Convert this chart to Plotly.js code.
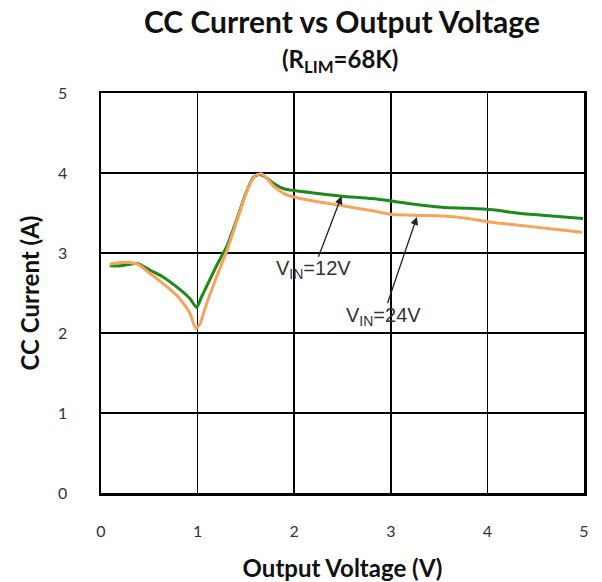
<!DOCTYPE html>
<html>
<head>
<meta charset="utf-8">
<script src="https://cdn.plot.ly/plotly-3.0.1.min.js"></script>
<style>html,body{margin:0;padding:0;background:#fff;}#chart{width:602px;height:582px;}</style>
</head>
<body>
<div id="chart"></div>
<script>
// Output voltage (V) and CC current (A) for the two input voltages
const vin12_x = [0.09,0.2,0.3,0.38,0.5,0.63,0.8,0.92,0.99,1.04,1.1,1.2,1.3,1.4,1.5,1.58,1.64,1.7,1.8,1.9,2.0,2.2,2.5,2.8,3.06,3.3,3.55,3.8,4.06,4.3,4.6,4.99];
const vin12_y = [2.84,2.84,2.86,2.87,2.79,2.71,2.56,2.43,2.32,2.45,2.6,2.85,3.08,3.4,3.75,3.95,3.98,3.95,3.86,3.8,3.78,3.75,3.71,3.68,3.64,3.6,3.57,3.56,3.54,3.5,3.47,3.43];
const vin24_x = [0.09,0.2,0.3,0.38,0.5,0.63,0.8,0.92,0.98,1.02,1.08,1.18,1.3,1.42,1.52,1.6,1.66,1.72,1.8,1.9,2.0,2.2,2.5,2.8,3.02,3.3,3.58,3.8,4.06,4.3,4.6,4.98];
const vin24_y = [2.86,2.88,2.88,2.86,2.75,2.63,2.45,2.25,2.06,2.1,2.32,2.65,3.02,3.45,3.8,3.97,3.99,3.93,3.82,3.74,3.70,3.65,3.59,3.53,3.48,3.47,3.46,3.43,3.38,3.35,3.31,3.26];

// Axis ticks
const xTicks = [0,1,2,3,4,5];
const yTicks = [0,1,2,3,4,5];

// Callout labels: [text x, text y, arrow head x, head y]
const label12 = [2.2, 2.79, 2.49, 3.71];
const label24 = [2.92, 2.21, 3.27, 3.45];

const tickFont = {family: 'Lato, "Open Sans", sans-serif', size: 16, color: '#333'};
const titleFont = {family: 'Lato, "Open Sans", sans-serif', size: 24, color: '#111', weight: 'bold'};

function callout(l, t) {
  return {x: l[2], y: l[3], ax: l[0], ay: l[1], axref: 'x', ayref: 'y', xref: 'x', yref: 'y',
    text: t, showarrow: true, arrowhead: 2, arrowsize: 1.2, arrowwidth: 1.3, arrowcolor: '#222', standoff: 0,
    borderpad: 0,
    font: {family: 'Arial, "Liberation Sans", sans-serif', size: 20, color: '#333'}};
}

const traces = [
  {x: vin12_x, y: vin12_y, mode: 'lines', line: {color: '#1e8a1e', width: 3, shape: 'spline', smoothing: 0.6}, name: 'VIN=12V'},
  {x: vin24_x, y: vin24_y, mode: 'lines', line: {color: '#f7a35a', width: 3, shape: 'spline', smoothing: 0.6}, name: 'VIN=24V'}
];

const layout = {
  width: 602, height: 582,
  margin: {l: 101, r: 18, t: 93, b: 89},
  paper_bgcolor: '#fff', plot_bgcolor: '#fff',
  showlegend: false,
  title: {text: 'CC Current vs Output Voltage', x: 0.568, xanchor: 'center', y: 0.962, yanchor: 'middle',
    font: {family: 'Lato, "Open Sans", sans-serif', size: 30, color: '#111', weight: 'bold'}},
  xaxis: {range: [0, 5], tickvals: xTicks, ticktext: xTicks.map(String), showgrid: true, gridcolor: '#000', gridwidth: 1.5,
    zeroline: false, showline: true, linecolor: '#000', linewidth: 2.5, mirror: true, ticks: '', tickfont: tickFont,
    ticklabelstandoff: 22,
    title: {text: 'Output Voltage (V)', font: titleFont, standoff: 22}},
  yaxis: {range: [0, 5], tickvals: yTicks, ticktext: yTicks.map(String), showgrid: true, gridcolor: '#000', gridwidth: 1.5,
    zeroline: false, showline: true, linecolor: '#000', linewidth: 2.5, mirror: true, ticks: '', tickfont: tickFont,
    ticklabelstandoff: 28,
    title: {text: 'CC Current (A)', font: titleFont, standoff: 12}},
  annotations: [
    {xref: 'paper', yref: 'paper', x: 0.495, y: 1.0, yanchor: 'middle', yshift: 33, showarrow: false,
      text: '(R<sub>LIM</sub>=68K)', font: {family: 'Lato, "Open Sans", sans-serif', size: 24, color: '#111', weight: 'bold'}},
    callout(label12, 'V<sub>IN</sub>=12V'), callout(label24, 'V<sub>IN</sub>=24V')
  ]
};

Plotly.newPlot('chart', traces, layout, {displayModeBar: false, staticPlot: true});
</script>
</body>
</html>
